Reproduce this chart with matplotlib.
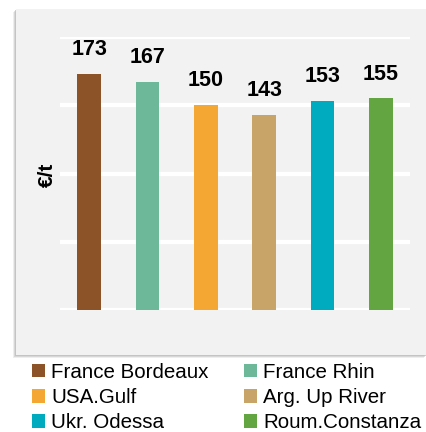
import matplotlib
matplotlib.use("Agg")
import matplotlib.pyplot as plt
from matplotlib.patches import Rectangle, Patch

plt.rcParams["font.family"] = ["Liberation Sans", "DejaVu Sans"]

PANEL = "#F2F2F2"
SHADOW = "#BDBDBD"

ports = ["France Bordeaux", "France Rhin", "USA.Gulf",
         "Arg. Up River", "Ukr. Odessa", "Roum.Constanza"]
prices = [173, 167, 150, 143, 153, 155]
colors = ["#8C5228", "#6DB898", "#F4A733", "#C8A468", "#00AABF", "#63A541"]

W, H = 427, 432
fig = plt.figure(figsize=(W / 100, H / 100), dpi=100, facecolor="white")

# panel with a soft shadow on the left / bottom
for off, a in [(3, 0.25), (2, 0.45), (1, 0.7)]:
    fig.patches.append(Rectangle(((16 - off) / W, (432 - 355 - off) / H),
                                 (427 - 16) / W, (355 - 9) / H,
                                 transform=fig.transFigure, facecolor=SHADOW,
                                 alpha=a, edgecolor="none", zorder=-2))
fig.patches.append(Rectangle((16 / W, (432 - 355) / H), (427 - 16) / W, (355 - 9) / H,
                             transform=fig.transFigure, facecolor=PANEL,
                             edgecolor="none", zorder=-1))

ax = fig.add_axes([60 / W, (432 - 310) / H, 350 / W, 273 / H])
ax.set_facecolor("none")
ax.set_zorder(1)

x = range(len(ports))
bars = ax.bar(x, prices, width=0.41, color=colors, zorder=3)

for b, v in zip(bars, prices):
    ax.annotate(f"{v}", (b.get_x() + b.get_width() / 2, v),
                xytext=(0, 10), textcoords="offset points",
                ha="center", va="bottom", fontsize=15.5, fontweight="bold")

ax.set_xlim(-0.5, len(ports) - 0.5)
ax.set_ylim(0, 200)
ax.set_yticks([0, 50, 100, 150, 200])
ax.grid(axis="y", color="white", linewidth=3, zorder=1)
ax.set_axisbelow(True)
for s in ax.spines.values():
    s.set_visible(False)
ax.tick_params(left=False, bottom=False, labelleft=False, labelbottom=False)

fig.text(47 / W, 1 - 175 / H, "€/t", rotation=90, ha="center", va="center",
         fontsize=15, fontweight="bold")

order = [0, 2, 4, 1, 3, 5]
handles = [Patch(facecolor=colors[i], edgecolor="none", label=ports[i]) for i in order]
fig.legend(handles=handles, loc="upper left", bbox_to_anchor=(32 / W, 1 - 363 / H),
           ncol=2, frameon=False, fontsize=14.8, handlelength=0.62, handleheight=0.62,
           handletextpad=0.3, columnspacing=1.75, labelspacing=0.3, borderpad=0,
           borderaxespad=0)

fig.savefig("out.png", dpi=100, facecolor="white")
